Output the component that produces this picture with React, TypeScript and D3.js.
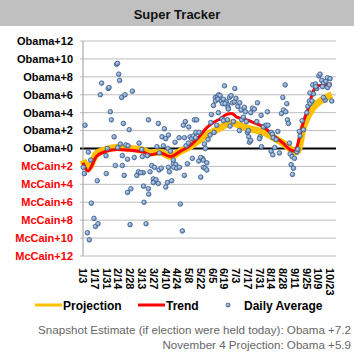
import React from 'react';
import * as d3 from 'd3';

// x = days since Jan 3, y = margin (Obama positive, McCain negative)
const tickLabels = ['1/3', '1/17', '1/31', '2/14', '2/28', '3/13', '3/27', '4/10', '4/24', '5/8', '5/22',
  '6/5', '6/19', '7/3', '7/17', '7/31', '8/14', '8/28', '9/11', '9/25', '10/9', '10/23'];
const yTicks = [12, 10, 8, 6, 4, 2, 0, -2, -4, -6, -8, -10, -12];

const dailyDays = [
  2.4, 0.4, 1.6, 6.3, 9.1, 17, 9.9, 13.1, 14.7, 17.9, 5.2, 7.5, 20.6, 22.2, 30, 31, 40, 41, 42.5, 43.6,
  46, 50, 58.7, 32.5, 33.7, 48, 55, 37, 29, 27.4, 27.7, 38.5, 41.3, 44.4, 46.8, 46.8, 49, 51, 53.6, 53,
  53, 57, 56, 61, 64, 66, 66.7, 70, 70.6, 71.8, 72, 72.6, 75, 77.8, 89.6, 96.8, 94, 98.5, 101.6, 88,
  95.6, 76.6, 68.7, 81.7, 85, 79.8, 77.8, 78.2, 83.7, 85.7, 86.9, 83.7, 89.7, 90.5, 93.2, 90.9, 98.5, 100.4, 105.6, 101.6,
  102.8, 107.5, 110.4, 108, 111.5, 114.7, 107.5, 109.5, 114.3, 115.8, 118.2, 120.6, 120.6, 119.4, 121.8, 125.8, 122.6, 125.4, 127.4, 129.4,
  131.3, 124.2, 130.1, 132.5, 135.3, 134.2, 138.1, 137.7, 140.1, 142, 143.2, 144.4, 134, 101, 104, 140.1, 143.2, 147.3, 145.2, 147.3,
  145.6, 148.8, 151.2, 152, 152.7, 155.2, 157.5, 157.5, 159.9, 161.5, 163.1, 164.3, 167.1, 168.3, 170.6, 171.8, 174.2, 176.2, 177.8, 180.6,
  180.2, 184.2, 186.5, 156, 159.1, 161.1, 165.5, 167.1, 171.8, 175, 178.9, 186.1, 188.9, 190.9, 193.3, 194.4, 195.6, 197.2, 198, 199.6,
  196.8, 199.6, 201.6, 203.9, 207.5, 206.8, 211.9, 210.7, 209.9, 212.3, 215.8, 214.7, 217.9, 220.2, 219.4, 223.8, 225.4, 226.2, 223.8, 225.8,
  228.2, 229.8, 231.8, 233.7, 237.7, 240.5, 236.1, 238.5, 241.3, 242.5, 243.2, 244.4, 245.6, 246.4, 248.8, 251.6, 247.6, 250.4, 249.2, 254.4,
  255.6, 258.3, 257.5, 260.7, 262.3, 266.3, 267.5, 269.4, 270.2, 272.6, 274.2, 273.4, 276.6, 278.2, 280.6, 282.1, 284.1, 286.1, 288.9, 290.8,
  294, 296, 288.1, 286.1, 270, 277, 285, 291, 293, 160.5, 166, 172.5, 182, 188, 192, 173, 169,
];
const dailyValues = [
  2.6, -2.1, -2.8, -0.4, -1.3, -3.6, -6.1, -7.8, -8.7, -8.4, -9.4, -10.2, 6.0, 7.3, 6.7, 6.8, 9.4, 9.5, 8.3, 7.6,
  5.7, 6.0, 6.4, 4.1, 3.2, 2.8, 2.1, 1.3, 0.0, -0.8, -2.8, -1.9, 0.1, 0.5, -0.8, -1.9, -3.0, 0.4, 0.3, -1.2,
  -4.9, -4.5, -8.5, -1.0, -3.0, -2.6, 0.6, -0.1, -0.9, -2.7, -4.2, -6.0, -8.4, 3.2, 2.8, 2.2, 1.3, 1.1, 1.5, 0.2,
  0.3, -0.8, -2.7, -1.9, -2.1, -2.6, -4.5, -5.1, -3.4, -3.6, -3.5, -3.8, -3.9, -2.4, -2.2, -0.5, -4.3, -3.8, -3.6, -2.1,
  -2.6, -1.7, -1.8, -2.1, -2.2, -2.1, -1.3, 0.7, 1.2, -6.2, -9.2, 1.2, -3.0, 2.6, 3.0, 2.4, 0.3, 0.6, 1.3, 1.1,
  1.4, -1.7, -1.1, 3.2, 3.2, 1.8, 1.8, -1.4, -3.2, -1.1, -2.1, 0.5, 1.2, 0.0, -0.3, -1.0, -1.3, -1.6, -2.2, -2.4,
  0.0, 1.0, 1.5, 2.9, 3.8, 4.8, 5.7, 5.3, 5.8, 6.0, 5.9, 5.3, 5.5, 7.0, 5.2, 4.9, 5.7, 5.9, 5.1, 6.7,
  5.2, 4.7, 5.1, 1.8, 2.6, 4.0, 3.3, 3.1, 3.2, 2.5, 3.0, 2.0, 3.2, 3.5, 4.1, 3.0, 1.8, 1.3, 0.7, 0.9,
  2.0, 4.0, 4.5, 4.4, 5.1, 3.0, 3.7, 1.3, 1.1, 0.2, 2.5, 2.4, 2.6, 2.6, 4.1, 1.8, 1.6, 1.2, -0.3, -0.7,
  0.1, 1.0, 1.9, -0.5, 5.7, 7.1, 3.9, 4.3, 4.1, 5.0, 3.2, 2.8, 0.6, -0.6, -0.9, -1.1, -1.8, -2.2, -2.9, -0.4,
  -0.1, 1.4, 1.9, 3.1, 2.1, 4.0, 4.7, 5.3, 5.0, 5.3, 6.1, 7.1, 7.2, 6.7, 8.1, 8.3, 7.6, 7.3, 7.5, 7.9,
  7.8, 5.3, 5.4, 5.7, 6.2, 6.9, 6.9, 6.8, 7.1, 5.5, 5.0, 4.6, 5.6, 4.3, 4.6, 4.4, 5.0,
];

const trendDays = [0, 6, 16, 28, 40, 56, 72, 80, 92, 104, 116, 127, 139, 147, 155, 163, 171, 177, 183, 191, 203, 215, 227, 238, 246, 252, 255, 258, 262, 268, 274, 280, 288, 296];
const trendValues = [-1.6, -2.5, -0.9, -0.3, -0.1, -0.2, -0.4, -0.7, -0.5, -0.9, -0.3, 0.3, 1.4, 2.3, 2.9, 3.3, 3.8, 3.9, 3.5, 3.3, 2.9, 2.4, 1.4, 0.6, -0.1, -0.3, 0.3, 1.4, 2.9, 4.5, 6.4, 7.0, 7.1, 7.2];

const projDays = [0, 6, 16, 28, 40, 56, 72, 80, 92, 104, 116, 127, 139, 147, 155, 163, 171, 177, 183, 191, 203, 215, 227, 238, 246, 252, 256, 262, 270, 276, 284, 296];
const projValues = [-1.3, -2.2, -0.6, -0.1, 0.1, 0.0, -0.2, -0.5, -0.4, -0.9, -0.3, 0.2, 1.0, 1.5, 1.9, 2.3, 2.7, 2.9, 2.7, 2.4, 2.1, 1.8, 1.2, 0.6, 0.0, -0.4, -0.2, 2.3, 4.0, 4.8, 5.4, 6.0];

const W = 354;
const H = 361;
const font = '"Liberation Sans", Arial, sans-serif';

const x = d3.scaleLinear().domain([0, 301]).range([83, 336]);
const y = d3.scaleLinear().domain([-12, 12]).range([256, 41]);

const line = d3.line<[number, number]>()
  .x(d => x(d[0]))
  .y(d => y(d[1]))
  .curve(d3.curveMonotoneX);

const trendPath = line(trendDays.map((d, i) => [d, trendValues[i]] as [number, number])) || '';
const projPath = line(projDays.map((d, i) => [d, projValues[i]] as [number, number])) || '';

const yLabel = (v: number) => (v >= 0 ? `Obama+${v}` : `McCain+${-v}`);

export default function App() {
  return (
    <div style={{ position: 'absolute', left: 0, top: 0 }}>
      <svg width={W} height={H} style={{ display: 'block', background: '#fff' }} fontFamily={font}>
        <defs>
          <radialGradient id="dot" cx="40%" cy="40%" r="60%">
            <stop offset="0%" stopColor="#c6d6ec" />
            <stop offset="100%" stopColor="#5b82b5" />
          </radialGradient>
        </defs>

        {/* title bar */}
        <rect x={0} y={0} width={W} height={26} fill="#c0c0c0" />
        <text x={177} y={18.5} textAnchor="middle" fontSize={13} fontWeight="bold" fill="#111">Super Tracker</text>

        {/* grid */}
        {yTicks.map(v => (
          <g key={v}>
            <line x1={x(0) - 3} x2={x(301)} y1={y(v)} y2={y(v)}
              stroke={v === 0 ? '#000' : '#bdbdbd'} strokeWidth={v === 0 ? 2 : 1} />
            <text x={73} y={y(v)} dy="0.35em" textAnchor="end" fontSize={11} fontWeight="bold"
              fill={v >= 0 ? '#000' : '#ff0000'}>{yLabel(v)}</text>
          </g>
        ))}
        <line x1={x(0)} x2={x(0)} y1={y(12)} y2={y(-12)} stroke="#9a9a9a" strokeWidth={1} />

        {/* projection + trend */}
        <path d={projPath} fill="none" stroke="#ffc000" strokeWidth={7} strokeLinejoin="round" />
        <path d={trendPath} fill="none" stroke="#ff0000" strokeWidth={3} strokeLinejoin="round" />

        {/* daily averages */}
        {dailyDays.map((d, i) => (
          <circle key={i} cx={x(d)} cy={y(dailyValues[i])} r={2.3}
            fill="url(#dot)" stroke="#3c5f8e" strokeWidth={0.8} />
        ))}

        {/* x labels */}
        {tickLabels.map((t, i) => (
          <text key={t} transform={`translate(${x(i * 14)},268) rotate(90)`} dy="0.35em"
            fontSize={11} fontWeight="bold" fill="#000">{t}</text>
        ))}

        {/* legend */}
        <line x1={35} x2={62} y1={305} y2={305} stroke="#ffc000" strokeWidth={3} />
        <text x={63} y={309.5} fontSize={12} fontWeight="bold" fill="#000">Projection</text>
        <line x1={138} x2={165} y1={305} y2={305} stroke="#ff0000" strokeWidth={3} />
        <text x={166} y={309.5} fontSize={12} fontWeight="bold" fill="#000">Trend</text>
        <circle cx={228} cy={305} r={2} fill="url(#dot)" stroke="#3c5f8e" strokeWidth={0.8} />
        <text x={244} y={309.5} fontSize={12} fontWeight="bold" fill="#000">Daily Average</text>

        {/* footer */}
        <text x={351} y={334} textAnchor="end" fontSize={11.6} fill="#666">
          Snapshot Estimate (if election were held today): Obama +7.2
        </text>
        <text x={351} y={349} textAnchor="end" fontSize={11.6} fill="#666">
          November 4 Projection: Obama +5.9
        </text>
      </svg>
    </div>
  );
}
